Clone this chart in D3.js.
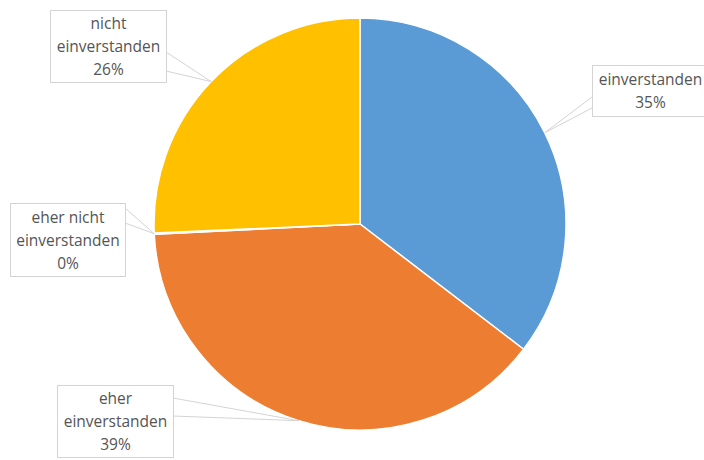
<!DOCTYPE html>
<html><head><meta charset="utf-8">
<script src="https://cdn.jsdelivr.net/npm/d3@7"></script>
<style>body{margin:0;background:#fff;}svg{display:block;}</style>
</head><body>
<svg id="c" width="704" height="460"></svg>
<script>
const categories = ["einverstanden", "eher einverstanden", "eher nicht einverstanden", "nicht einverstanden"];
const values = [35.4, 38.8, 0.1, 25.7];
const labelLines = [["einverstanden", "35%"], ["eher", "einverstanden", "39%"], ["eher nicht", "einverstanden", "0%"], ["nicht", "einverstanden", "26%"]];
const colors = ["#5B9BD5", "#ED7D31", "#A5A5A5", "#FFC000"];

// layout of callout boxes: x, y, w, h, side facing pie, base y1/y2
const boxes = [
  {x: 592, y: 65, w: 116, h: 51, side: "left", b1: 97, b2: 108},
  {x: 57, y: 385, w: 116, h: 72, side: "right", b1: 398, b2: 416},
  {x: 10, y: 203, w: 115, h: 73, side: "right", b1: 208, b2: 223},
  {x: 50, y: 10, w: 116, h: 72, side: "right", b1: 52, b2: 71}
];

const cx = 360, cy = 224, r = 206;
const svg = d3.select("#c");
const g = svg.append("g").attr("transform", `translate(${cx},${cy})`);

const pie = d3.pie().sort(null).value(d => d)(values);
const arc = d3.arc().innerRadius(0).outerRadius(r);

g.selectAll("path.slice").data(pie).join("path")
  .attr("class", "slice")
  .attr("d", arc)
  .attr("fill", (d, i) => colors[i])
  .attr("stroke", "#fff")
  .attr("stroke-width", 1.5)
  .attr("stroke-linejoin", "round");

const lab = svg.append("g");
pie.forEach((d, i) => {
  const a = (d.startAngle + d.endAngle) / 2;
  const ax = cx + r * Math.sin(a), ay = cy - r * Math.cos(a);
  const b = boxes[i];
  const ex = b.side === "right" ? b.x + b.w : b.x;
  lab.append("path")
    .attr("d", `M${ex},${b.b1}L${ax},${ay}L${ex},${b.b2}`)
    .attr("fill", "#fff").attr("stroke", "#d4d4d4").attr("stroke-width", 1);
  lab.append("rect").attr("x", b.x + 0.5).attr("y", b.y + 0.5).attr("width", b.w).attr("height", b.h)
    .attr("fill", "#fff").attr("stroke", "#d4d4d4").attr("stroke-width", 1);
  const lines = labelLines[i];
  const lh = 23;
  const tx = b.x + b.w / 2 + 0.5;
  const t0 = b.y + b.h / 2 - (lines.length - 1) * lh / 2;
  lines.forEach((s, k) => {
    lab.append("text").attr("x", tx).attr("y", t0 + k * lh)
      .attr("text-anchor", "middle").attr("dominant-baseline", "central")
      .attr("font-family", "'Open Sans', sans-serif").attr("font-size", 15.5)
      .attr("fill", "#555555").text(s);
  });
});
</script>
</body></html>
